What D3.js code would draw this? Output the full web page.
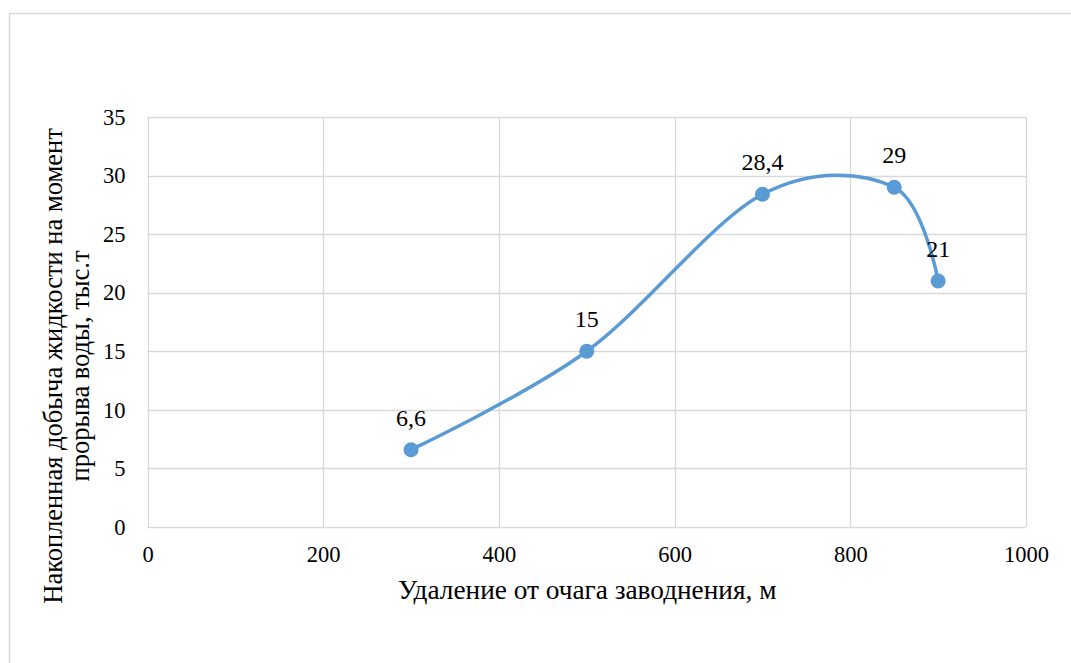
<!DOCTYPE html>
<html>
<head>
<meta charset="utf-8">
<script src="https://cdn.jsdelivr.net/npm/d3@7"></script>
<style>
  html, body { margin: 0; padding: 0; background: #fff; }
  svg { display: block; }
</style>
</head>
<body>
<svg id="chart" width="1071" height="663"></svg>
<script>
// Distance from the flood source, m
const distances = [300, 500, 700, 850, 900];
// Cumulative fluid production at water breakthrough, thousand t
const production = [6.6, 15, 28.4, 29, 21];
const pointLabels = ["6,6", "15", "28,4", "29", "21"];
const xTicks = [0, 200, 400, 600, 800, 1000];
const yTicks = [0, 5, 10, 15, 20, 25, 30, 35];

const FONT = "Liberation Serif, Times New Roman, DejaVu Serif, serif";
const svg = d3.select("#chart").attr("font-family", FONT);
const plot = { left: 147.5, right: 1026, top: 117, bottom: 527 };

// outer frame
svg.append("rect")
  .attr("x", 9.5).attr("y", 13.5)
  .attr("width", 1080).attr("height", 700)
  .attr("fill", "#fff").attr("stroke", "#d9d9d9").attr("stroke-width", 1.5);

const x = d3.scaleLinear().domain([0, 1000]).range([plot.left, plot.right]);
const y = d3.scaleLinear().domain([0, 35]).range([plot.bottom, plot.top]);

// grid lines
const grid = svg.append("g").attr("stroke", "#d9d9d9").attr("stroke-width", 1.3);
grid.selectAll("line.h").data(yTicks).join("line")
  .attr("x1", plot.left).attr("x2", plot.right)
  .attr("y1", d => Math.round(y(d)) + 0.5).attr("y2", d => Math.round(y(d)) + 0.5);
grid.selectAll("line.v").data(xTicks).join("line")
  .attr("y1", plot.top).attr("y2", plot.bottom)
  .attr("x1", d => Math.round(x(d)) + 0.5).attr("x2", d => Math.round(x(d)) + 0.5);

// tick labels
const yAxis = d3.axisLeft(y).tickValues(yTicks).tickSize(0).tickPadding(22).tickFormat(d3.format("d"));
svg.append("g").attr("transform", `translate(${plot.left},0)`).call(yAxis)
  .attr("font-family", FONT).attr("font-size", 22.5)
  .call(g => g.select(".domain").remove())
  .selectAll("text").attr("fill", "#000");

const xAxis = d3.axisBottom(x).tickValues(xTicks).tickSize(0).tickPadding(19).tickFormat(d3.format("d"));
svg.append("g").attr("transform", `translate(0,${plot.bottom})`).call(xAxis)
  .attr("font-family", FONT).attr("font-size", 22.5)
  .call(g => g.select(".domain").remove())
  .selectAll("text").attr("fill", "#000");

// axis titles
svg.append("text")
  .attr("x", (plot.left + plot.right) / 2 + 0.5).attr("y", 599)
  .attr("text-anchor", "middle").attr("font-size", 27.3).attr("fill", "#000")
  .text("Удаление от очага заводнения, м");

const yTitle = svg.append("text")
  .attr("transform", "translate(62,366) rotate(-90)")
  .attr("text-anchor", "middle").attr("font-size", 26.5).attr("fill", "#000");
yTitle.append("tspan").attr("x", 0).attr("dy", 0).text("Накопленная добыча жидкости на момент");
yTitle.append("tspan").attr("x", 0).attr("dy", 26.5).text("прорыва воды, тыс.т");

// smoothed series line
const pts = distances.map((d, i) => [d, production[i]]);
const line = d3.line().x(d => x(d[0])).y(d => y(d[1])).curve(d3.curveCardinal.tension(0));
svg.append("path").datum(pts)
  .attr("d", line).attr("fill", "none")
  .attr("stroke", "#5b9bd5").attr("stroke-width", 3.5).attr("stroke-linecap", "round");

svg.selectAll("circle.pt").data(pts).join("circle")
  .attr("cx", d => x(d[0])).attr("cy", d => y(d[1])).attr("r", 7.5)
  .attr("fill", "#5b9bd5");

// value labels
svg.selectAll("text.val").data(pts).join("text")
  .attr("x", d => x(d[0])).attr("y", d => y(d[1]) - 24)
  .attr("text-anchor", "middle").attr("font-size", 24).attr("fill", "#000")
  .text((d, i) => pointLabels[i]);
</script>
</body>
</html>
